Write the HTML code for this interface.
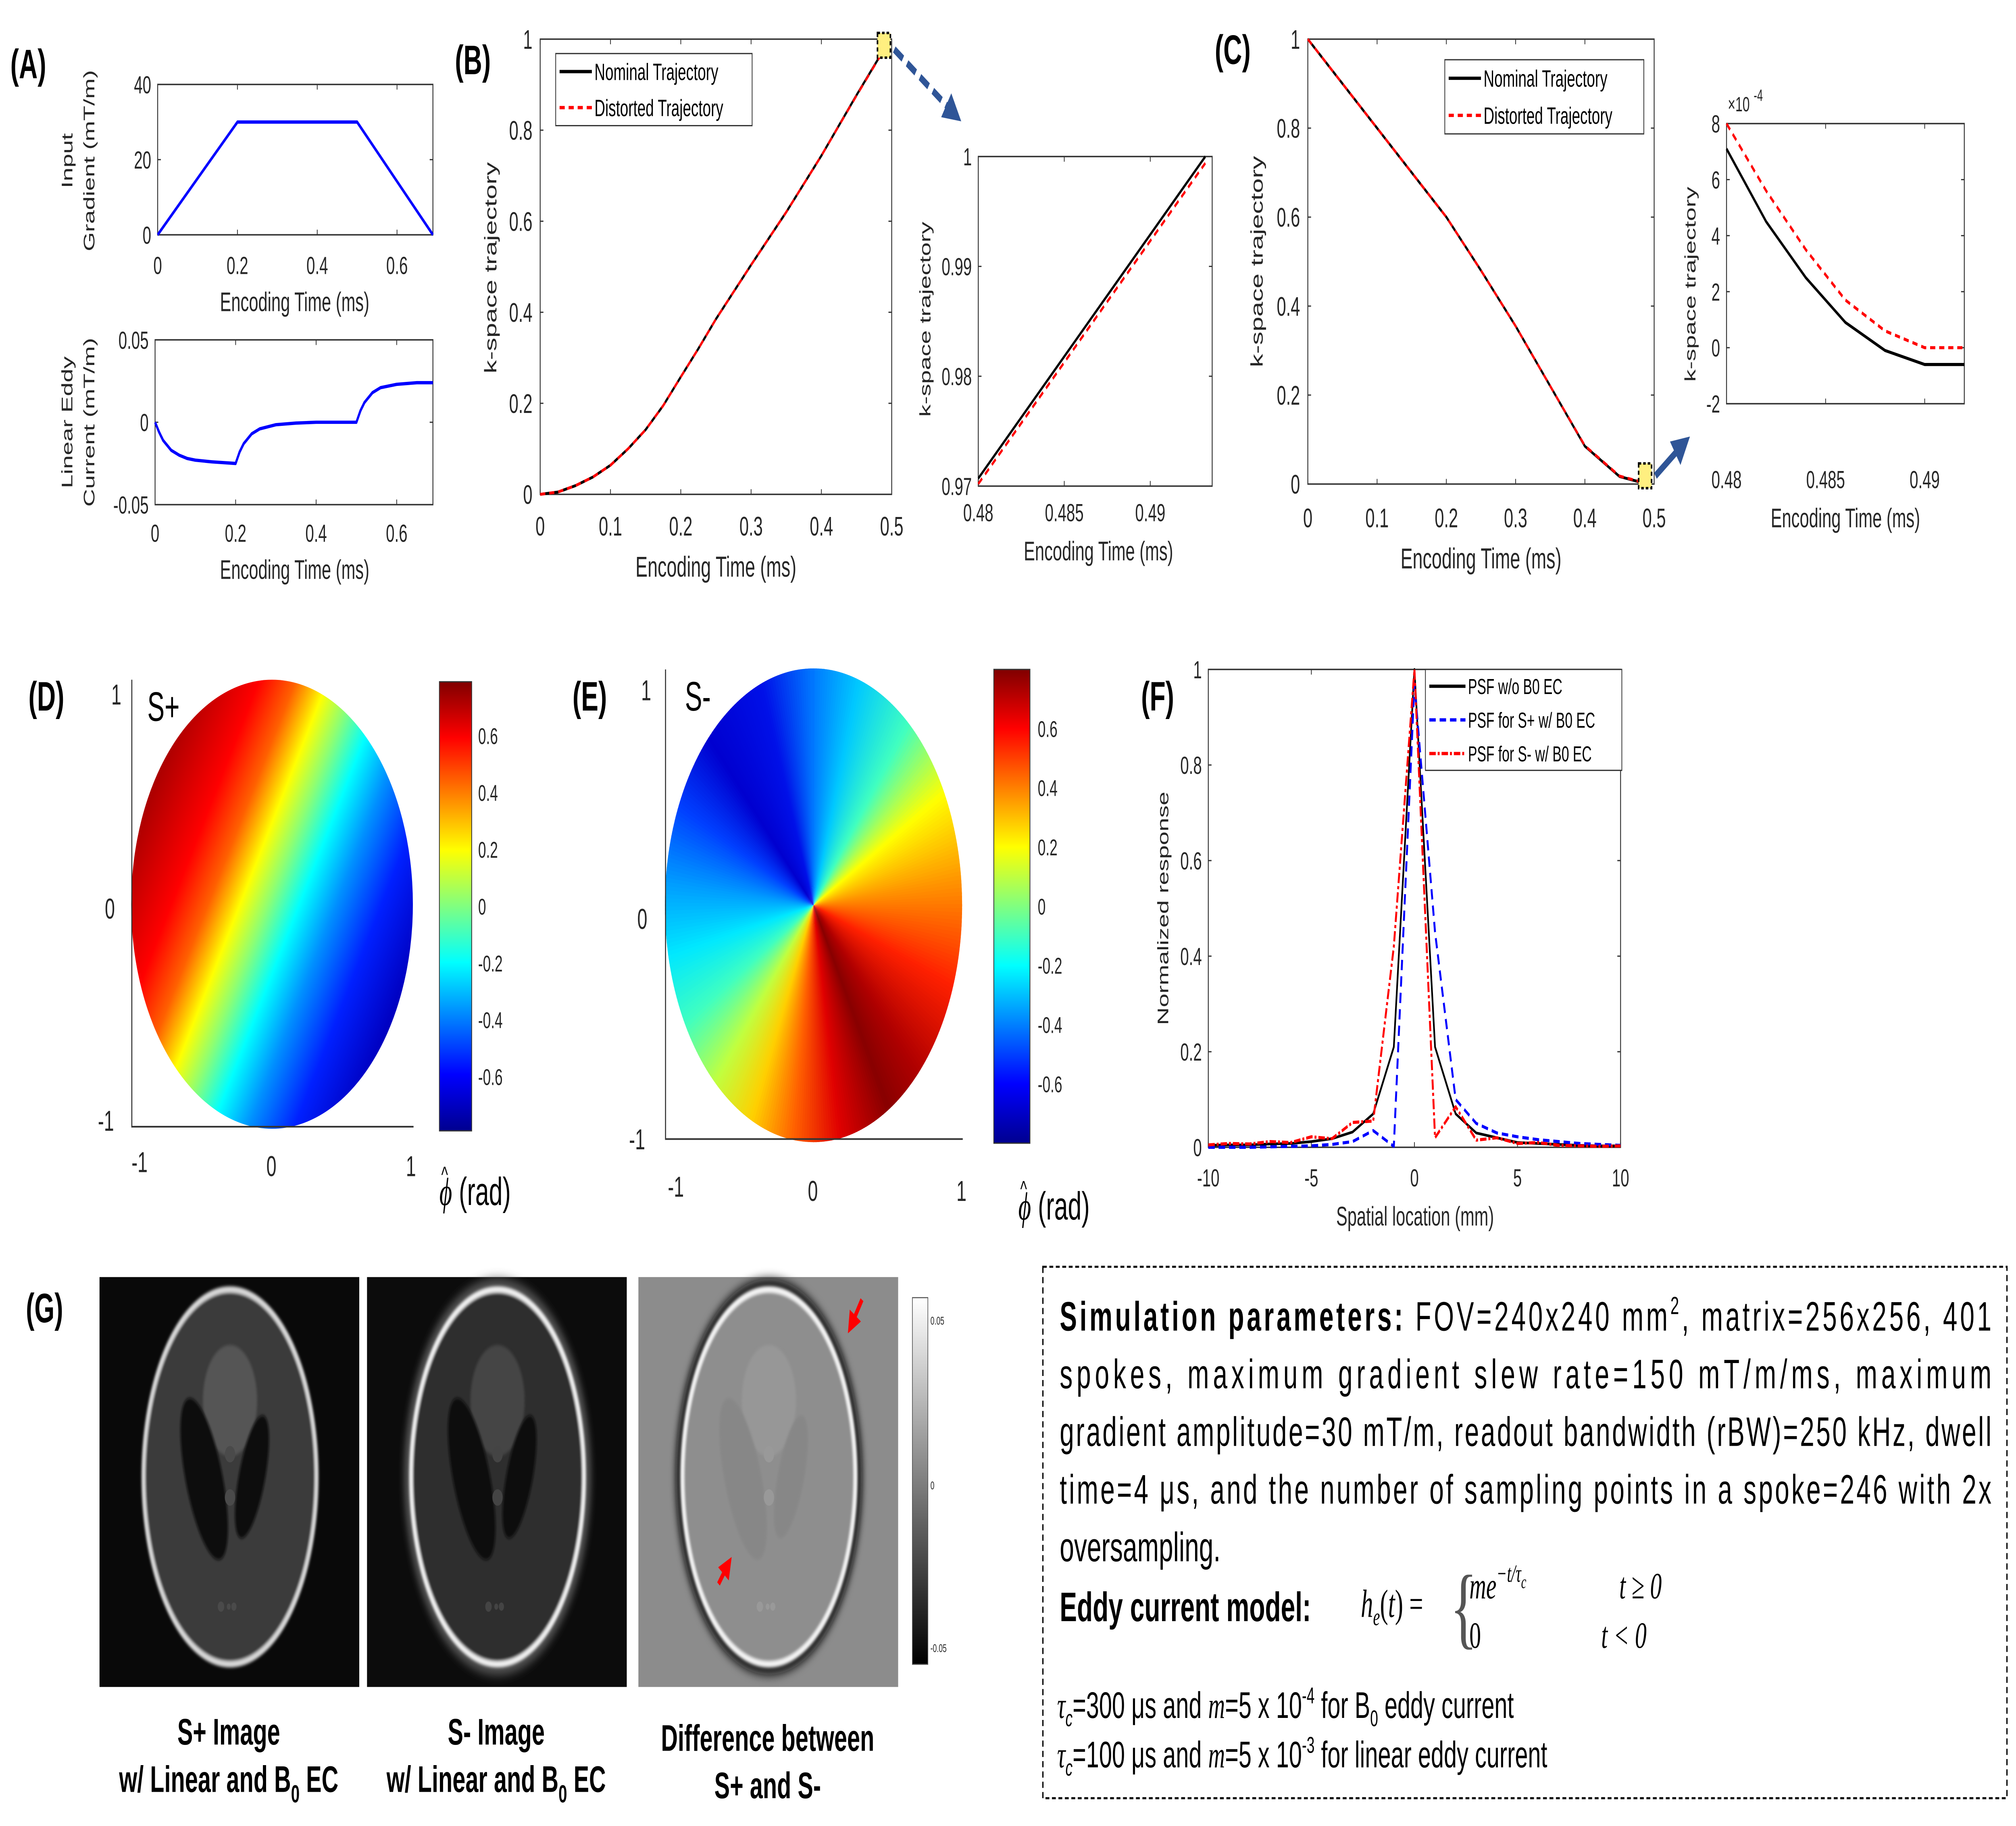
<!DOCTYPE html>
<html><head><meta charset="utf-8">
<style>
html,body{margin:0;padding:0;background:#fff;overflow:hidden;width:100%;height:100%;}
#svg{position:fixed;left:0;top:0;width:100vw;height:100vh;display:block;}
</style></head>
<body>
<svg id="svg" viewBox="0 0 1560 886.5" preserveAspectRatio="none">
<defs>
<filter id="bl" x="-20%" y="-20%" width="140%" height="140%"><feGaussianBlur stdDeviation="0.8"/></filter>
<filter id="bl2" x="-20%" y="-20%" width="140%" height="140%"><feGaussianBlur stdDeviation="2.5"/></filter>
<linearGradient id="gcb" x1="0" y1="0" x2="0" y2="1"><stop offset="0" stop-color="#fff"/><stop offset="1" stop-color="#000"/></linearGradient>
<linearGradient id="jet" x1="0" y1="0" x2="0" y2="1">
<stop offset="0" stop-color="#800000"/><stop offset="0.125" stop-color="#ff0000"/><stop offset="0.375" stop-color="#ffff00"/><stop offset="0.5" stop-color="#80ff80"/><stop offset="0.625" stop-color="#00ffff"/><stop offset="0.875" stop-color="#0000ff"/><stop offset="1" stop-color="#00008f"/></linearGradient>
<linearGradient id="splus" x1="-0.084" y1="0.135" x2="1.084" y2="0.865">
<stop offset="0" stop-color="#6a0000"/><stop offset="0.12" stop-color="#a00000"/><stop offset="0.28" stop-color="#ff0000"/><stop offset="0.36" stop-color="#ff6000"/><stop offset="0.41" stop-color="#ffd000"/><stop offset="0.43" stop-color="#ffff00"/><stop offset="0.49" stop-color="#90ff70"/><stop offset="0.56" stop-color="#00ffff"/><stop offset="0.64" stop-color="#0090ff"/><stop offset="0.74" stop-color="#0020ff"/><stop offset="0.86" stop-color="#0000c0"/><stop offset="1" stop-color="#00007a"/></linearGradient>
<clipPath id="eclip"><circle cx="629.5" cy="439.5" r="115"/></clipPath>
<marker id="ah" markerWidth="4" markerHeight="4" refX="2" refY="2" orient="auto" markerUnits="strokeWidth"><path d="M0,0 L4,2 L0,4 z" fill="#2f5597"/></marker>
<marker id="rah" markerWidth="4" markerHeight="4" refX="2" refY="2" orient="auto" markerUnits="strokeWidth"><path d="M0,0 L4,2 L0,4 z" fill="#f00"/></marker>
</defs>
</svg>
<script>
// ---------- DATA ----------
const gradT=[0,0.2,0.5,0.69];
const gradV=[0,30,30,0];
const eddyT=[0,0.01,0.02,0.04,0.06,0.08,0.1,0.14,0.2,0.21,0.22,0.24,0.26,0.3,0.35,0.4,0.5,0.51,0.52,0.54,0.56,0.6,0.65,0.69];
const eddyV=[0,-0.006,-0.011,-0.017,-0.020,-0.022,-0.023,-0.024,-0.025,-0.018,-0.013,-0.007,-0.004,-0.0015,-0.0005,0,0,0.007,0.012,0.018,0.021,0.023,0.024,0.024];
const trajTB=[0,0.025,0.05,0.075,0.1,0.125,0.15,0.175,0.2,0.225,0.25,0.3,0.35,0.4,0.45,0.49,0.492];
const trajNomB=[0,0.005,0.019,0.038,0.064,0.1,0.142,0.195,0.258,0.32,0.385,0.504,0.62,0.744,0.877,0.98,1.0];
const trajDisB=[0,0.005,0.019,0.038,0.064,0.1,0.142,0.195,0.258,0.32,0.385,0.504,0.62,0.744,0.876,0.979,0.999];
const trajT=[0,0.025,0.05,0.075,0.1,0.125,0.15,0.175,0.2,0.225,0.25,0.3,0.35,0.4,0.45,0.49];
const insetBT=[0.48,0.4932];
const insetBNom=[0.9707,1.0];
const insetBDis=[0.9702,0.9994];
const trajNomC=[1,0.95,0.9,0.85,0.8,0.75,0.7,0.65,0.6,0.54,0.48,0.355,0.22,0.085,0.017,0.0];
const trajDisC=[1,0.95,0.9,0.85,0.8,0.75,0.7,0.65,0.6,0.54,0.48,0.355,0.22,0.086,0.018,0.001];
const insetCT=[0.48,0.482,0.484,0.486,0.488,0.49,0.492];
const insetCNom=[7.1,4.5,2.5,0.9,-0.1,-0.6,-0.6];
const insetCDis=[8.0,5.6,3.5,1.7,0.6,0.0,0.0];
const psfX=[-10,-9,-8,-7,-6,-5,-4,-3,-2,-1,0,1,2,3,4,5,6,7,8,9,10];
const psfNom=[0.004,0.005,0.005,0.007,0.008,0.012,0.018,0.032,0.07,0.21,1.0,0.21,0.07,0.03,0.02,0.01,0.008,0.006,0.004,0.003,0.003];
const psfSp=[0.0,0.0,0.0,0.001,0.002,0.003,0.006,0.012,0.035,0.002,0.97,0.45,0.10,0.05,0.03,0.022,0.016,0.012,0.008,0.006,0.004];
const psfSm=[0.005,0.008,0.007,0.012,0.01,0.022,0.018,0.052,0.055,0.42,1.0,0.02,0.085,0.015,0.02,0.008,0.01,0.004,0.003,0.002,0.003];
const ticksA1x=[0,0.2,0.4,0.6], ticksA1y=[0,20,40];
const ticksA2x=[0,0.2,0.4,0.6], ticksA2y=[-0.05,0,0.05];
const ticksBx=[0,0.1,0.2,0.3,0.4,0.5], ticksBy=[0,0.2,0.4,0.6,0.8,1];
const ticksBIx=[0.48,0.485,0.49], ticksBIy=[0.97,0.98,0.99,1];
const ticksCIx=[0.48,0.485,0.49], ticksCIy=[-2,0,2,4,6,8];
const ticksFx=[-10,-5,0,5,10], ticksFy=[0,0.2,0.4,0.6,0.8,1];
const cbTicks=[0.6,0.4,0.2,0,-0.2,-0.4,-0.6];
const sMinusAngles=[0,18,40,62,85,110,135,150,170,188,205,222,240,258,275,295,315,340,360];
const sMinusColors=['#0078ff','#00c8ff','#40ffc0','#ffff00','#ff9000','#ff2000','#b00000','#880000','#e00000','#ff6000','#ffd000','#c0ff40','#40ffc0','#00e8ff','#00a0ff','#0040ff','#0000d0','#0010e8','#0078ff'];

// ---------- HELPERS ----------
const NS='http://www.w3.org/2000/svg';
const svg=document.getElementById('svg');
const FONT='"Liberation Sans",sans-serif';
function el(tag,parent){const e=document.createElementNS(NS,tag);parent.appendChild(e);return e;}
function lin(d0,d1,r0,r1){return v=>r0+(v-d0)*(r1-r0)/(d1-d0);}
function txt(parent,x,y,s,size,anchor,extra){const t=el('text',parent);t.setAttribute('x',x);t.setAttribute('y',y);t.setAttribute('font-size',size);t.setAttribute('text-anchor',anchor||'start');t.setAttribute('fill','#262626');t.setAttribute('font-family',FONT);if(extra)for(const k in extra)t.setAttribute(k,extra[k]);t.textContent=s;return t;}
function fmt(v){return String(v);}
function axes(name,xs,ys,x0,x1,y0,y1,xt,yt,xlabY,ylabX,fs){
  const g=el('g',svg);
  
  
  const r=el('rect',g);r.setAttribute('x',x0);r.setAttribute('y',y1);r.setAttribute('width',x1-x0);r.setAttribute('height',y0-y1);r.setAttribute('fill','none');r.setAttribute('stroke','#333');r.setAttribute('stroke-width','0.7');
  xt.forEach(v=>{const x=xs(v);
    const l=el('line',g);l.setAttribute('x1',x);l.setAttribute('x2',x);l.setAttribute('y1',y0);l.setAttribute('y2',y0-2.5);l.setAttribute('stroke','#333');l.setAttribute('stroke-width','0.6');
    const l2=el('line',g);l2.setAttribute('x1',x);l2.setAttribute('x2',x);l2.setAttribute('y1',y1);l2.setAttribute('y2',y1+2.5);l2.setAttribute('stroke','#333');l2.setAttribute('stroke-width','0.6');
    const t=txt(g,x,xlabY,fmt(v),fs,'middle');
    
    
  });
  yt.forEach(v=>{const y=ys(v);
    const l=el('line',g);l.setAttribute('x1',x0);l.setAttribute('x2',x0+2.5);l.setAttribute('y1',y);l.setAttribute('y2',y);l.setAttribute('stroke','#333');l.setAttribute('stroke-width','0.6');
    const l2=el('line',g);l2.setAttribute('x1',x1);l2.setAttribute('x2',x1-2.5);l2.setAttribute('y1',y);l2.setAttribute('y2',y);l2.setAttribute('stroke','#333');l2.setAttribute('stroke-width','0.6');
    const t=txt(g,ylabX,y+fs*0.36,fmt(v),fs,'end');
    
    
  });
  return g;
}
function series(g,name,xs,ys,X,Y,color,w,dash){
  const p=el('polyline',g);
  
  
  p.setAttribute('points',X.map((x,i)=>xs(x).toFixed(2)+','+ys(Y[i]).toFixed(2)).join(' '));
  p.setAttribute('fill','none');p.setAttribute('stroke',color);p.setAttribute('stroke-width',w);p.setAttribute('stroke-linejoin','round');
  if(dash)p.setAttribute('stroke-dasharray',dash);
  return p;
}
function rotLabel(g,x,y,s,fs,name){const t=txt(g,x,y,s,fs,'middle',{transform:`rotate(-90 ${x} ${y})`});
  
  
  return t;}
function legend(g,x,y,w,h,entries,fs,lineLen){
  const lg=el('g',g);
  
  
  const r=el('rect',lg);r.setAttribute('x',x);r.setAttribute('y',y);r.setAttribute('width',w);r.setAttribute('height',h);r.setAttribute('fill','#fff');r.setAttribute('stroke','#333');r.setAttribute('stroke-width','0.6');
  const step=h/entries.length;
  entries.forEach((e,i)=>{const yy=y+step*(i+0.5);
    const l=el('line',lg);l.setAttribute('x1',x+3);l.setAttribute('x2',x+3+lineLen);l.setAttribute('y1',yy);l.setAttribute('y2',yy);l.setAttribute('stroke',e[1]);l.setAttribute('stroke-width',e[2]);if(e[3])l.setAttribute('stroke-dasharray',e[3]);
    const t=txt(lg,x+5+lineLen,yy+fs*0.36,e[0],fs,'start',{fill:'#000'});
    
    
  });
}
function xlabel(g,x,y,s,fs){const t=txt(g,x,y,s,fs,'middle');
  
  }
function panelLabel(x,y,s){const t=txt(svg,x,y,s,20,'start',{'font-weight':'bold',fill:'#000'});
  
  }

// ---------- PANEL A ----------
panelLabel(8,38,'(A)');
{const xs=lin(0,0.69,122,335),ys=lin(0,40,114,41);
 const g=axes('input-gradient-plot',xs,ys,122,335,114,41,ticksA1x,ticksA1y,133,117,12);
 series(g,'gradient-line',xs,ys,gradT,gradV,'#0000ff',1.6);
 xlabel(g,228,151,'Encoding Time (ms)',13);
 rotLabel(g,56,78,'Input',12,'y-axis-title');rotLabel(g,73,78,'Gradient (mT/m)',12,'y-axis-title');}
{const xs=lin(0,0.69,120,335),ys=lin(-0.05,0.05,245,165);
 const g=axes('eddy-current-plot',xs,ys,120,335,245,165,ticksA2x,ticksA2y,263,115,12);
 series(g,'eddy-line',xs,ys,eddyT,eddyV,'#0000ff',1.6);
 xlabel(g,228,281,'Encoding Time (ms)',13);
 rotLabel(g,56,205,'Linear Eddy',12,'y-axis-title');rotLabel(g,73,205,'Current (mT/m)',12,'y-axis-title');}

// ---------- PANEL B ----------
panelLabel(352,36,'(B)');
{const xs=lin(0,0.5,418,690),ys=lin(0,1,240,19);
 const g=axes('kspace-plot-b',xs,ys,418,690,240,19,ticksBx,ticksBy,260,412,13);
 series(g,'nominal-trajectory-b',xs,ys,trajTB,trajNomB,'#000',1.4);
 series(g,'distorted-trajectory-b',xs,ys,trajTB,trajDisB,'#ff0000',1.4,'4 3');
 xlabel(g,554,280,'Encoding Time (ms)',14);
 rotLabel(g,384,130,'k-space trajectory',13,'y-axis-title');
 legend(g,430,26,152,35,[['Nominal Trajectory','#000',1.6],['Distorted Trajectory','#f00',1.6,'4 3']],11.5,25);}
{const xs=lin(0.48,0.4936,757,938),ys=lin(0.97,1,236,76);
 const g=axes('kspace-inset-b',xs,ys,757,938,236,76,ticksBIx,ticksBIy,253,752,12);
 series(g,'nominal-inset-b',xs,ys,insetBT,insetBNom,'#000',1.4);
 series(g,'distorted-inset-b',xs,ys,insetBT,insetBDis,'#ff0000',1.4,'4 3');
 xlabel(g,850,272,'Encoding Time (ms)',13);
 rotLabel(g,720,155,'k-space trajectory',12,'y-axis-title');}

// ---------- PANEL C ----------
panelLabel(940,31,'(C)');
{const xs=lin(0,0.5,1012,1280),ys=lin(0,1,235,19);
 const g=axes('kspace-plot-c',xs,ys,1012,1280,235,19,ticksBx,ticksBy,256,1006,13);
 series(g,'nominal-trajectory-c',xs,ys,trajT,trajNomC,'#000',1.4);
 series(g,'distorted-trajectory-c',xs,ys,trajT,trajDisC,'#ff0000',1.4,'4 3');
 xlabel(g,1146,276,'Encoding Time (ms)',14);
 rotLabel(g,977,127,'k-space trajectory',13,'y-axis-title');
 legend(g,1118,29,154,36,[['Nominal Trajectory','#000',1.6],['Distorted Trajectory','#f00',1.6,'4 3']],11.5,25);}
{const xs=lin(0.48,0.492,1336,1520),ys=lin(-2,8,196,60);
 const g=axes('kspace-inset-c',xs,ys,1336,1520,196,60,ticksCIx,ticksCIy,237,1331,12);
 series(g,'nominal-inset-c',xs,ys,insetCT,insetCNom,'#000',1.5);
 series(g,'distorted-inset-c',xs,ys,insetCT,insetCDis,'#ff0000',1.5,'4 3');
 xlabel(g,1428,256,'Encoding Time (ms)',13);
 rotLabel(g,1312,138,'k-space trajectory',12,'y-axis-title');
 const m=txt(g,1337,54,'×10',10,'start');
 const m2=txt(g,1357,49,'-4',8,'start');}

// zoom boxes and arrows
[[679,16],[1268,225]].forEach(p=>{const r=el('rect',svg);
  
  
  r.setAttribute('x',p[0]);r.setAttribute('y',p[1]);r.setAttribute('width',10);r.setAttribute('height',12);r.setAttribute('fill','#ffef80');r.setAttribute('stroke','#000');r.setAttribute('stroke-width','1.2');r.setAttribute('stroke-dasharray','2 1.5');});
{const a=el('line',svg);
 
 
 a.setAttribute('x1',692);a.setAttribute('y1',24);a.setAttribute('x2',738);a.setAttribute('y2',55);a.setAttribute('stroke','#2f5597');a.setAttribute('stroke-width',3.5);a.setAttribute('stroke-dasharray','8 4');a.setAttribute('marker-end','url(#ah)');
 const b=el('line',svg);
 
 
 b.setAttribute('x1',1281);b.setAttribute('y1',231);b.setAttribute('x2',1302);b.setAttribute('y2',216);b.setAttribute('stroke','#2f5597');b.setAttribute('stroke-width',3.5);b.setAttribute('marker-end','url(#ah)');}

// ---------- PANEL D / E ----------
panelLabel(22,345,'(D)');panelLabel(443,345,'(E)');
{const c=el('circle',svg);
 
 
 c.setAttribute('cx',210.5);c.setAttribute('cy',439);c.setAttribute('r',109);c.setAttribute('fill','url(#splus)');}
function hex2rgb(h){return [1,3,5].map(i=>parseInt(h.substr(i,2),16));}
{const g=el('g',svg);
 
 
 g.setAttribute('clip-path','url(#eclip)');
 const cx=629.5,cy=439.5,R=130;
 for(let a=0;a<360;a+=1){
   let k=0;while(k<sMinusAngles.length-2&&sMinusAngles[k+1]<=a+0.5)k++;
   const f=(a+0.5-sMinusAngles[k])/(sMinusAngles[k+1]-sMinusAngles[k]);
   const c0=hex2rgb(sMinusColors[k]),c1=hex2rgb(sMinusColors[k+1]);
   const col=c0.map((v,i)=>Math.round(v+(c1[i]-v)*f));
   const t0=(a-0.3)*Math.PI/180,t1=(a+1.3)*Math.PI/180;
   const p=el('path',g);
   p.setAttribute('d',`M${cx},${cy} L${cx+R*Math.sin(t0)},${cy-R*Math.cos(t0)} L${cx+R*Math.sin(t1)},${cy-R*Math.cos(t1)} Z`);
   p.setAttribute('fill',`rgb(${col.join(',')})`);
 }}
{const r=el('rect',svg);
 r.setAttribute('x',340);r.setAttribute('y',331);r.setAttribute('width',25);r.setAttribute('height',218);r.setAttribute('fill','url(#jet)');r.setAttribute('stroke','#333');r.setAttribute('stroke-width',0.6);
 const r2=el('rect',svg);
 r2.setAttribute('x',769);r2.setAttribute('y',325);r2.setAttribute('width',28);r2.setAttribute('height',230);r2.setAttribute('fill','url(#jet)');r2.setAttribute('stroke','#333');r2.setAttribute('stroke-width',0.6);}
function mapAxes(name,x0,x1,y0,y1,lbl,xl,yl){
  const g=el('g',svg);
  
  
  const p=el('polyline',g);p.setAttribute('points',`${x0},${y1} ${x0},${y0} ${x1},${y0}`);p.setAttribute('fill','none');p.setAttribute('stroke','#333');p.setAttribute('stroke-width','0.8');
  xl.forEach(a=>{const t=txt(g,a[0],a[1],a[2],14,'middle');});
  yl.forEach(a=>{const t=txt(g,a[0],a[1],a[2],14,'middle');});
  const s=txt(g,lbl[0],lbl[1],lbl[2],20,'start',{fill:'#000'});
  
  
}
mapAxes('s-plus-map-axes',102,320,547,330,[114,350,'S+'],[[108,569,'-1'],[210,571,'0'],[318,571,'1']],[[90,342,'1'],[85,446,'0'],[82,549,'-1']]);
mapAxes('s-minus-map-axes',515,745,553,325,[530,345,'S-'],[[523,581,'-1'],[629,583,'0'],[744,583,'1']],[[500,340,'1'],[497,451,'0'],[493,558,'-1']]);
function cbLabels(name,x,top,bottom,vmin,vmax,phiX,phiY){
  const g=el('g',svg);
  
  
  const ys=lin(vmin,vmax,bottom,top);
  cbTicks.forEach(v=>{const y=ys(v);
    const t=txt(g,x,y+4,fmt(v),11,'start');
    
    });
  const p=txt(g,phiX,phiY,'',19,'start',{fill:'#000'});
  p.innerHTML='<tspan font-family="Liberation Serif" font-style="italic">ϕ</tspan> (rad)';
  
  
  const h=txt(g,phiX+1.5,phiY-11,'^',11,'start',{fill:'#000'});
  
  
}
cbLabels('s-plus-colorbar-labels',370,331,549,-0.79,0.79,340,585);
cbLabels('s-minus-colorbar-labels',803,325,555,-0.8,0.8,788,592);

// ---------- PANEL F ----------
panelLabel(883,345,'(F)');
{const xs=lin(-10,10,935,1254),ys=lin(0,1,557,325);
 const g=axes('psf-plot',xs,ys,935,1254,557,325,ticksFx,ticksFy,576,930,12);
 series(g,'psf-nominal',xs,ys,psfX,psfNom,'#000',1.3);
 series(g,'psf-s-plus',xs,ys,psfX,psfSp,'#0000ff',1.5,'5 3');
 series(g,'psf-s-minus',xs,ys,psfX,psfSm,'#ff0000',1.5,'5 1.5 1.5 1.5');
 xlabel(g,1095,595,'Spatial location (mm)',13);
 rotLabel(g,904,441,'Normalized response',12,'y-axis-title');
 legend(g,1103,325,152,49,[['PSF w/o B0 EC','#000',1.6],['PSF for S+ w/ B0 EC','#00f',1.6,'5 3'],['PSF for S-  w/ B0 EC','#f00',1.6,'5 1.5 1.5 1.5']],10.5,28);}

// ---------- PANEL G ----------
panelLabel(20,642,'(G)');
function phantom(name,ox,bg,ringColor,innerFill,darkFill,glow){
  const g=el('g',svg);
  
  
  const r=el('rect',g);r.setAttribute('x',ox);r.setAttribute('y',620);r.setAttribute('width',201);r.setAttribute('height',199);r.setAttribute('fill',bg);
  const cx=ox+101,cy=717;
  if(glow){const e=el('ellipse',g);e.setAttribute('cx',cx);e.setAttribute('cy',cy);e.setAttribute('rx',69);e.setAttribute('ry',93);e.setAttribute('fill','none');e.setAttribute('stroke',glow);e.setAttribute('stroke-width',6);e.setAttribute('filter','url(#bl2)');}
  const o=el('ellipse',g);o.setAttribute('cx',cx);o.setAttribute('cy',cy);o.setAttribute('rx',67);o.setAttribute('ry',91);o.setAttribute('fill',innerFill);o.setAttribute('stroke',ringColor);o.setAttribute('stroke-width',3);o.setAttribute('filter','url(#bl)');
  const t=el('ellipse',g);t.setAttribute('cx',cx);t.setAttribute('cy',680);t.setAttribute('rx',21);t.setAttribute('ry',27);t.setAttribute('fill',darkFill[2]);t.setAttribute('filter','url(#bl)');
  const l=el('ellipse',g);l.setAttribute('cx',cx-20);l.setAttribute('cy',718);l.setAttribute('rx',14);l.setAttribute('ry',41);l.setAttribute('transform',`rotate(-18 ${cx-20} 718)`);l.setAttribute('fill',darkFill[0]);l.setAttribute('filter','url(#bl)');
  const rr=el('ellipse',g);rr.setAttribute('cx',cx+17);rr.setAttribute('cy',717);rr.setAttribute('rx',10);rr.setAttribute('ry',31);rr.setAttribute('transform',`rotate(17 ${cx+17} 717)`);rr.setAttribute('fill',darkFill[1]);rr.setAttribute('filter','url(#bl)');
  [[cx,706,4],[cx,727,4],[cx-7,780,2.5],[cx-1,780,1.5],[cx+3,780,2]].forEach(c=>{const s=el('circle',g);s.setAttribute('cx',c[0]);s.setAttribute('cy',c[1]);s.setAttribute('r',c[2]);s.setAttribute('fill',darkFill[3]);});
}
phantom('s-plus-image',77,'#090909','#d8d8d8','#3b3b3b',['#0b0b0b','#0b0b0b','#555','#4a4a4a'],null);
phantom('s-minus-image',284,'#0c0c0c','#f0f0f0','#2e2e2e',['#111','#111','#444','#444'],'#5a5a5a');
phantom('difference-image',494,'#8c8c8c','#f4f4f4','#8e8e8e',['#878787','#878787','#979797','#999'],'#111');
{const a=el('line',svg);
 a.setAttribute('x1',667);a.setAttribute('y1',631);a.setAttribute('x2',659);a.setAttribute('y2',643);a.setAttribute('stroke','#f00');a.setAttribute('stroke-width',2.6);a.setAttribute('marker-end','url(#rah)');
 const b=el('line',svg);
 b.setAttribute('x1',556);b.setAttribute('y1',769);b.setAttribute('x2',563);b.setAttribute('y2',760);b.setAttribute('stroke','#f00');b.setAttribute('stroke-width',2.6);b.setAttribute('marker-end','url(#rah)');}
{const g=el('g',svg);
 const r=el('rect',g);r.setAttribute('x',706);r.setAttribute('y',630);r.setAttribute('width',12);r.setAttribute('height',178);r.setAttribute('fill','url(#gcb)');r.setAttribute('stroke','#555');r.setAttribute('stroke-width',0.5);
 [['0.05',643],['0',723],['-0.05',802]].forEach(a=>{const t=txt(g,720,a[1],a[0],5.5,'start');});}
function caption(x,y1,y2,l1,l2html){
  const g=el('g',svg);
  
  
  txt(g,x,y1,l1,18,'middle',{'font-weight':'bold',fill:'#000'});
  const b=txt(g,x,y2,'',18,'middle',{'font-weight':'bold',fill:'#000'});
  b.innerHTML=l2html;
}
caption(177,847,870,'S+ Image','w/ Linear and B<tspan font-size="12" dy="5">0</tspan><tspan dy="-5"> EC</tspan>');
caption(384,847,870,'S- Image','w/ Linear and B<tspan font-size="12" dy="5">0</tspan><tspan dy="-5"> EC</tspan>');
caption(594,850,873,'Difference between','S+ and S-');

// ---------- TEXT BOX ----------
{const g=el('g',svg);
 const r=el('rect',g);r.setAttribute('x',807);r.setAttribute('y',615);r.setAttribute('width',746);r.setAttribute('height',258);r.setAttribute('fill','none');r.setAttribute('stroke','#000');r.setAttribute('stroke-width',1);r.setAttribute('stroke-dasharray','3 2');
 const lines=[
  [646,'<tspan font-weight="bold">Simulation parameters:</tspan> FOV=240x240 mm<tspan font-size="12" dy="-8">2</tspan><tspan dy="8">, matrix=256x256, 401</tspan>'],
  [674,'spokes, maximum gradient slew rate=150 mT/m/ms, maximum'],
  [702,'gradient amplitude=30 mT/m, readout bandwidth (rBW)=250 kHz, dwell'],
  [730,'time=4 μs, and the number of sampling points in a spoke=246 with 2x']];
 lines.forEach(l=>{const t=txt(g,820,l[0],'',20,'start',{fill:'#000',textLength:721,lengthAdjust:'spacing'});t.innerHTML=l[1];});
 txt(g,820,758,'oversampling.',20,'start',{fill:'#000'});
 txt(g,820,787,'Eddy current model:',20,'start',{fill:'#000','font-weight':'bold'});
 const eq=txt(g,1053,785,'',19,'start',{fill:'#000','font-family':'"Liberation Serif",serif','font-style':'italic'});
 eq.innerHTML='h<tspan font-size="12" dy="4">e</tspan><tspan dy="-4" font-style="normal">(</tspan>t<tspan font-style="normal">) =</tspan>';
 txt(g,1122,795,'{',44,'start',{fill:'#555','font-family':'"Liberation Serif",serif'});
 const e1=txt(g,1137,776,'',18,'start',{fill:'#000','font-family':'"Liberation Serif",serif','font-style':'italic'});
 e1.innerHTML='me<tspan font-size="12" dy="-8">−t/τ</tspan><tspan font-size="9" dy="3">c</tspan>';
 txt(g,1253,776,'t ≥ 0',18,'start',{fill:'#000','font-family':'"Liberation Serif",serif','font-style':'italic'});
 txt(g,1137,800,'0',18,'start',{fill:'#000','font-family':'"Liberation Serif",serif'});
 txt(g,1239,800,'t < 0',18,'start',{fill:'#000','font-family':'"Liberation Serif",serif','font-style':'italic'});
 const t1=txt(g,818,834,'',18,'start',{fill:'#000'});
 t1.innerHTML='<tspan font-family="Liberation Serif" font-style="italic">τ</tspan><tspan font-size="11" dy="4" font-style="italic">c</tspan><tspan dy="-4">=300 μs and </tspan><tspan font-family="Liberation Serif" font-style="italic">m</tspan>=5 x 10<tspan font-size="11" dy="-7">-4</tspan><tspan dy="7"> for B</tspan><tspan font-size="11" dy="4">0</tspan><tspan dy="-4"> eddy current</tspan>';
 const t2=txt(g,818,858,'',18,'start',{fill:'#000'});
 t2.innerHTML='<tspan font-family="Liberation Serif" font-style="italic">τ</tspan><tspan font-size="11" dy="4" font-style="italic">c</tspan><tspan dy="-4">=100 μs and </tspan><tspan font-family="Liberation Serif" font-style="italic">m</tspan>=5 x 10<tspan font-size="11" dy="-7">-3</tspan><tspan dy="7"> for linear eddy current</tspan>';
}
</script>
</body></html>
